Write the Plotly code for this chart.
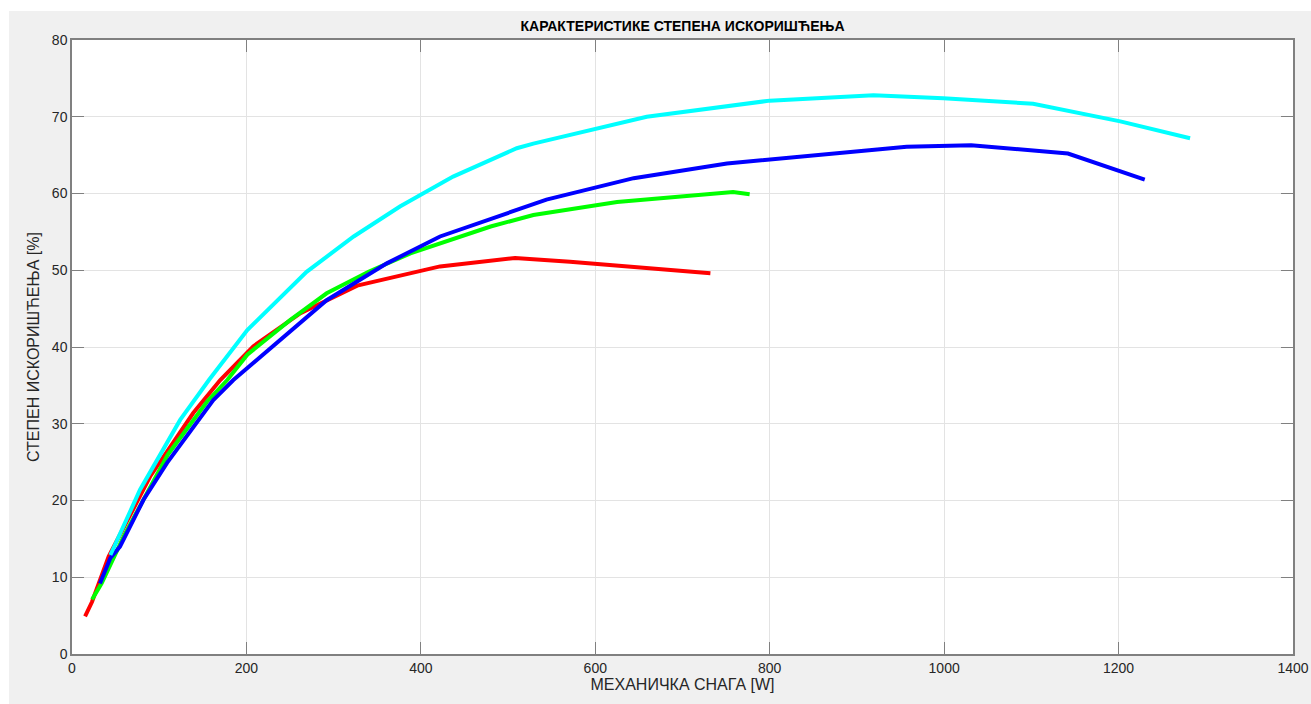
import plotly.graph_objects as go

red_x = [15, 23, 42, 90, 139, 170, 208, 262, 327, 422, 508, 571, 732]
red_y = [4.9, 6.8, 12.7, 23.2, 31.4, 35.7, 40.1, 44.4, 48.0, 50.5, 51.6, 51.1, 49.6]

green_x = [23, 34, 60, 110, 155, 178, 201, 250, 292, 340, 388, 440, 480, 529, 625, 758, 777]
green_y = [7.1, 9.2, 15.5, 26.0, 32.9, 35.7, 39.0, 43.5, 47.0, 49.8, 52.2, 54.2, 55.7, 57.2, 58.9, 60.2, 59.9]

blue_x = [32, 44, 55, 82, 109, 143, 162, 185, 239, 292, 361, 422, 544, 644, 751, 858, 957, 1031, 1142, 1230]
blue_y = [9.2, 12.5, 14.0, 20.1, 24.9, 30.2, 33.1, 35.7, 40.9, 46.1, 50.9, 54.4, 59.2, 62.0, 63.9, 65.0, 66.1, 66.3, 65.2, 61.8]

cyan_x = [44, 78, 124, 157, 201, 269, 323, 376, 437, 510, 529, 659, 800, 858, 919, 999, 1102, 1202, 1282]
cyan_y = [12.9, 21.4, 30.5, 35.7, 42.2, 49.8, 54.4, 58.3, 62.2, 65.9, 66.5, 70.0, 72.1, 72.4, 72.8, 72.4, 71.7, 69.4, 67.2]

x_ticks = [0, 200, 400, 600, 800, 1000, 1200, 1400]
y_ticks = [0, 10, 20, 30, 40, 50, 60, 70, 80]

title = "КАРАКТЕРИСТИКЕ СТЕПЕНА ИСКОРИШЋЕЊА"
x_label = "МЕХАНИЧКА СНАГА [W]"
y_label = "СТЕПЕН ИСКОРИШЋЕЊА [%]"

series = [
    (red_x, red_y, "#ff0000"),
    (green_x, green_y, "#00ff00"),
    (blue_x, blue_y, "#0000ff"),
    (cyan_x, cyan_y, "#00ffff"),
]

fig = go.Figure()
for xs, ys, c in series:
    fig.add_trace(go.Scatter(x=xs, y=ys, mode="lines",
                             line=dict(color=c, width=4), showlegend=False))

W, H = 1311, 704
ml, mr, mt, mb = 72, 18, 40, 50
pw, ph = W - ml - mr, H - mt - mb

# white strips at top and left edges of the figure window
fig.add_shape(type="rect", xref="paper", yref="paper", layer="below",
              x0=-(ml + 5) / pw, x1=(W - ml + 5) / pw,
              y0=(H - mb - 11) / ph, y1=(H - mb + 5) / ph,
              fillcolor="white", line=dict(width=0))
fig.add_shape(type="rect", xref="paper", yref="paper", layer="below",
              x0=-(ml + 5) / pw, x1=-(ml - 9) / pw,
              y0=-(mb + 5) / ph, y1=(H - mb + 5) / ph,
              fillcolor="white", line=dict(width=0))

axis_common = dict(
    showline=True, linecolor="#808080", linewidth=1.5, mirror="allticks",
    ticks="inside", ticklen=12, tickcolor="#808080", tickwidth=1.2,
    showgrid=True, gridcolor="#e3e3e3", gridwidth=1, zeroline=False,
    automargin=False,
    tickfont=dict(family="Liberation Sans, Arial", size=14, color="#262626"),
)

fig.update_layout(
    width=W, height=H,
    margin=dict(l=ml, r=mr, t=mt, b=mb, autoexpand=False),
    paper_bgcolor="#f0f0f0", plot_bgcolor="white",
    title=dict(text="<b>" + title + "</b>", x=(ml + pw / 2) / W, xanchor="center",
               y=1 - 26 / H, yanchor="middle", automargin=False,
               font=dict(family="Liberation Sans, Arial", size=14, color="black")),
    xaxis=dict(range=[0, 1400], tickvals=x_ticks,
               title=dict(text=x_label, standoff=4,
                          font=dict(family="Liberation Sans, Arial", size=16, color="#262626")),
               **axis_common),
    yaxis=dict(range=[0, 80], tickvals=y_ticks,
               title=dict(text=y_label, standoff=8,
                          font=dict(family="Liberation Sans, Arial", size=16, color="#262626")),
               **axis_common),
)

fig.write_html("out.html")
